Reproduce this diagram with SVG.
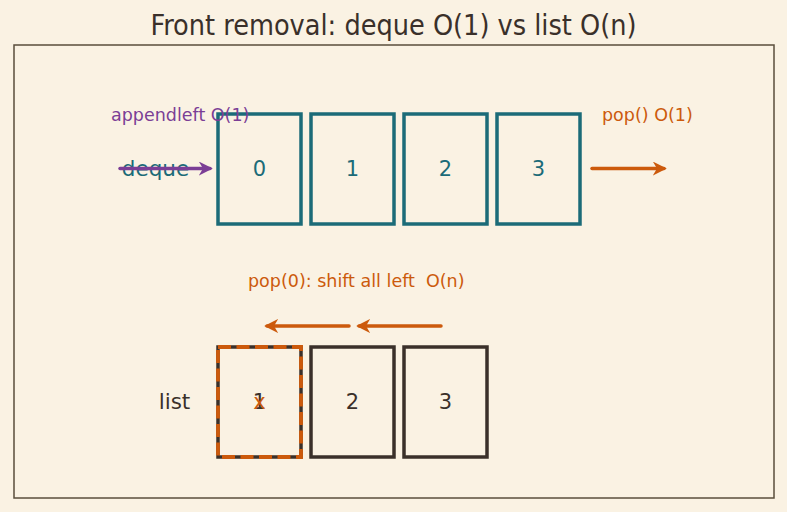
<svg xmlns="http://www.w3.org/2000/svg" width="787" height="512" viewBox="0 0 787 512">
<defs>
<style>
text{font-family:"DejaVu Sans",sans-serif;}
.box{fill:none;stroke:#1b6b78;stroke-width:3.5;}
.lbox{fill:none;stroke:#3a302a;stroke-width:3.5;}
.num{font-size:21px;fill:#1b6b78;text-anchor:middle;dominant-baseline:central;}
.lnum{font-size:21px;fill:#3a302a;text-anchor:middle;dominant-baseline:central;}
.or{stroke:#cc5a0c;stroke-width:3.5;fill:none;stroke-linecap:round;}
.pu{stroke:#7b3e96;stroke-width:3.5;fill:none;stroke-linecap:round;}
.lab{font-size:17.5px;}
</style>
<marker id="ao" viewBox="0 0 10 10" refX="8" refY="5" markerWidth="4" markerHeight="4" orient="auto" markerUnits="strokeWidth"><path d="M0,0 L10,5 L0,10 L3,5 z" fill="#cc5a0c"/></marker>
<marker id="ap" viewBox="0 0 10 10" refX="8" refY="5" markerWidth="4" markerHeight="4" orient="auto" markerUnits="strokeWidth"><path d="M0,0 L10,5 L0,10 L3,5 z" fill="#7b3e96"/></marker>
</defs>
<rect width="787" height="512" fill="#faf2e3"/>
<text x="393.5" y="35" font-size="28.5" fill="#3a302a" text-anchor="middle" style="font-family:'DejaVu Sans Condensed','DejaVu Sans',sans-serif" font-stretch="condensed">Front removal: deque O(1) vs list O(n)</text>
<rect x="14" y="45" width="760" height="453" fill="none" stroke="#5a4e3c" stroke-width="1.5"/>

<g id="deque-label"><text x="155.5" y="168" font-size="21.5" fill="#1b6b78" text-anchor="middle" dominant-baseline="central">deque</text></g>
<g id="d0"><rect class="box" x="218" y="114" width="83" height="110"/><text class="num" x="259.5" y="169">0</text></g>
<g id="d1"><rect class="box" x="311" y="114" width="83" height="110"/><text class="num" x="352.5" y="169">1</text></g>
<g id="d2"><rect class="box" x="404" y="114" width="83" height="110"/><text class="num" x="445.5" y="169">2</text></g>
<g id="d3"><rect class="box" x="497" y="114" width="83" height="110"/><text class="num" x="538.5" y="169">3</text></g>

<g id="list-label"><text x="174.5" y="401" font-size="21.5" fill="#3a302a" text-anchor="middle" dominant-baseline="central">list</text></g>
<g id="l1"><rect class="lbox" x="218" y="347" width="83" height="110"/><rect x="218" y="347" width="83" height="110" fill="none" stroke="#cc5a0c" stroke-width="3.8" stroke-dasharray="13,5.5"/><text class="lnum" x="259.5" y="402">1</text><text x="259.5" y="402" font-size="21" fill="#cc5a0c" text-anchor="middle" dominant-baseline="central">x</text></g>
<g id="l2"><rect class="lbox" x="311" y="347" width="83" height="110"/><text class="lnum" x="352.5" y="402">2</text></g>
<g id="l3"><rect class="lbox" x="404" y="347" width="83" height="110"/><text class="lnum" x="445.5" y="402">3</text></g>

<g id="connectors">
<line class="pu" x1="120" y1="168.5" x2="210" y2="168.5" marker-end="url(#ap)"/>
<line class="or" x1="592" y1="168.5" x2="664" y2="168.5" marker-end="url(#ao)"/>
<line class="or" x1="349" y1="326" x2="267" y2="326" marker-end="url(#ao)"/>
<line class="or" x1="441" y1="326" x2="359" y2="326" marker-end="url(#ao)"/>
</g>
<text class="lab" x="111" y="121" fill="#7b3e96">appendleft O(1)</text>
<text class="lab" x="602" y="121" fill="#cc5a0c">pop() O(1)</text>
<text class="lab" x="248" y="287" fill="#cc5a0c" xml:space="preserve">pop(0): shift all left  O(n)</text>
</svg>
